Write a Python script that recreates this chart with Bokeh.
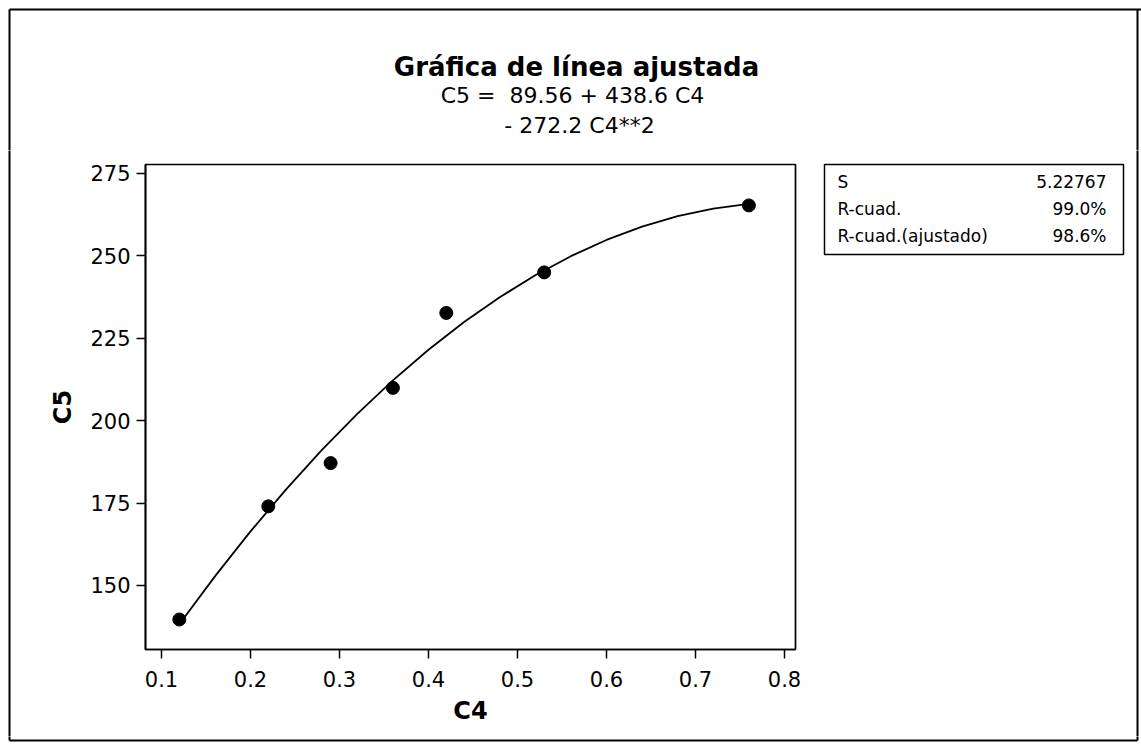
from bokeh.plotting import figure
from bokeh.models import Range1d, FixedTicker
from bokeh.layouts import column, row
from bokeh.core.properties import value
from bokeh.embed import file_html
from bokeh.resources import INLINE

# ---- data ----
c4 = [0.12, 0.22, 0.29, 0.36, 0.42, 0.53, 0.76]
c5 = [139.7, 174.0, 187.1, 209.9, 232.6, 244.9, 265.2]

# fitted curve points (C5 = 89.56 + 438.6 C4 - 272.2 C4**2), as drawn
fit_x = [0.12, 0.16, 0.20, 0.24, 0.28, 0.32, 0.36, 0.40, 0.44,
         0.48, 0.52, 0.56, 0.60, 0.64, 0.68, 0.72, 0.76]
fit_y = [138.27, 152.77, 166.39, 179.15, 191.03, 202.04, 212.18, 221.45, 229.85,
         237.37, 244.03, 249.81, 254.73, 258.77, 261.94, 264.24, 265.67]

x_ticks = [0.1, 0.2, 0.3, 0.4, 0.5, 0.6, 0.7, 0.8]
y_ticks = [150, 175, 200, 225, 250, 275]

title_text = ["Gráfica de línea ajustada"]
eq_lines = ["C5 =\u00a0 89.56 + 438.6 C4", "- 272.2 C4**2"]
stat_names = ["S", "R-cuad.", "R-cuad.(ajustado)"]
stat_values = ["5.22767", "99.0%", "98.6%"]

FONT = "DejaVu Sans"
W, H = 1141, 748
TOP_H = 150           # title strip height
BOT_H = 12            # bottom strip height
LEFT_W = 12           # left strip width
WM = 810              # right edge of main figure (page px)
MID_H = H - TOP_H - BOT_H
BX0, BY0, BX1, BY1 = 9, 9, 1137, 740   # outer border (page px)
BW = 2
EXT = 4               # border segments run past strip edges (clipped) to join
TXT_DY = -9           # text baseline correction


def blank(width, height, xr, yr):
    f = figure(width=width, height=height, output_backend="svg",
               toolbar_location=None, x_range=xr, y_range=yr,
               x_axis_location=None, y_axis_location=None,
               min_border=0, min_border_left=0, min_border_right=0,
               min_border_top=0, min_border_bottom=0,
               background_fill_color="white", border_fill_color="white")
    f.grid.visible = False
    f.outline_line_color = None
    return f


# ---- title strip (page-pixel coordinates, y measured from top) ----
t = blank(W, TOP_H, Range1d(0, W), Range1d(TOP_H, 0))
t.segment(x0=[BX0, BX0, BX1], y0=[BY0, BY0, BY0],
          x1=[W, BX0, BX1], y1=[BY0, TOP_H + EXT, TOP_H + EXT],
          line_color="black", line_width=BW)
t.text(x=[576], y=[75 + TXT_DY], text=title_text, text_font=value(FONT),
       text_font_size="26px", text_font_style="bold", text_align="center",
       text_baseline="alphabetic", text_color="black")
t.text(x=[572, 579], y=[104 + TXT_DY, 134 + TXT_DY], text=eq_lines, text_font=value(FONT),
       text_font_size="22px", text_align="center",
       text_baseline="alphabetic", text_color="black")

# ---- left strip ----
l = blank(LEFT_W, MID_H, Range1d(0, LEFT_W), Range1d(H - BOT_H, TOP_H))
l.segment(x0=[BX0], y0=[TOP_H - EXT], x1=[BX0], y1=[H - BOT_H + EXT],
          line_color="black", line_width=BW)

# ---- main plot ----
p = figure(width=WM - LEFT_W, height=MID_H, output_backend="svg", toolbar_location=None,
           x_range=Range1d(0.082, 0.8124), y_range=Range1d(130.6, 277.6),
           min_border_left=145 - LEFT_W, min_border_right=WM - 795,
           min_border_top=164 - TOP_H, min_border_bottom=(H - BOT_H) - 649,
           background_fill_color="white", border_fill_color="white")
p.grid.visible = False
p.outline_line_color = "black"
p.outline_line_width = 1.7

for ax, ticks in ((p.xaxis[0], x_ticks), (p.yaxis[0], y_ticks)):
    ax.ticker = FixedTicker(ticks=ticks)
    ax.minor_tick_line_color = None
    ax.major_tick_in = 0
    ax.major_tick_out = 9
    ax.major_tick_line_width = 1.5
    ax.axis_line_width = 1.7
    ax.major_label_text_font = FONT
    ax.major_label_text_font_size = "21px"
    ax.major_label_text_color = "black"
    ax.axis_label_text_font = FONT
    ax.axis_label_text_font_style = "bold"
    ax.axis_label_text_font_size = "24px"
    ax.axis_label_text_color = "black"

p.xaxis.axis_label = "C4"
p.yaxis.axis_label = "C5"
p.xaxis.major_label_standoff = 12
p.yaxis.major_label_standoff = 6
p.xaxis.axis_label_standoff = 7
p.yaxis.axis_label_standoff = 10

p.line(fit_x, fit_y, line_color="black", line_width=1.8)
p.scatter(c4, c5, size=13, color="black")

# ---- stats panel (page-pixel coordinates, y measured from top) ----
s = blank(W - WM, MID_H, Range1d(WM, W), Range1d(H - BOT_H, TOP_H))
s.segment(x0=[BX1], y0=[TOP_H - EXT], x1=[BX1], y1=[H - BOT_H + EXT],
          line_color="black", line_width=BW)
s.quad(left=[824], right=[1123], top=[164], bottom=[254],
       fill_color=None, line_color="black", line_width=1.5)
row_y = [189 + TXT_DY + 1, 216 + TXT_DY + 1, 243 + TXT_DY + 1]
s.text(x=[837] * 3, y=row_y, text=stat_names, text_font=value(FONT),
       text_font_size="17px", text_align="left", text_baseline="alphabetic",
       text_color="black")
s.text(x=[1106] * 3, y=row_y, text=stat_values, text_font=value(FONT),
       text_font_size="17px", text_align="right", text_baseline="alphabetic",
       text_color="black")

# ---- bottom strip ----
b = blank(W, BOT_H, Range1d(0, W), Range1d(H, H - BOT_H))
b.segment(x0=[BX0, BX0, BX1], y0=[BY1, H - BOT_H - EXT, H - BOT_H - EXT],
          x1=[BX1, BX0, BX1], y1=[BY1, BY1, BY1],
          line_color="black", line_width=BW)

layout = column(t, row(column(l, spacing=0), p, column(s, spacing=0), spacing=0), b, spacing=0)

open("out.html", "w").write(file_html(layout, INLINE))
